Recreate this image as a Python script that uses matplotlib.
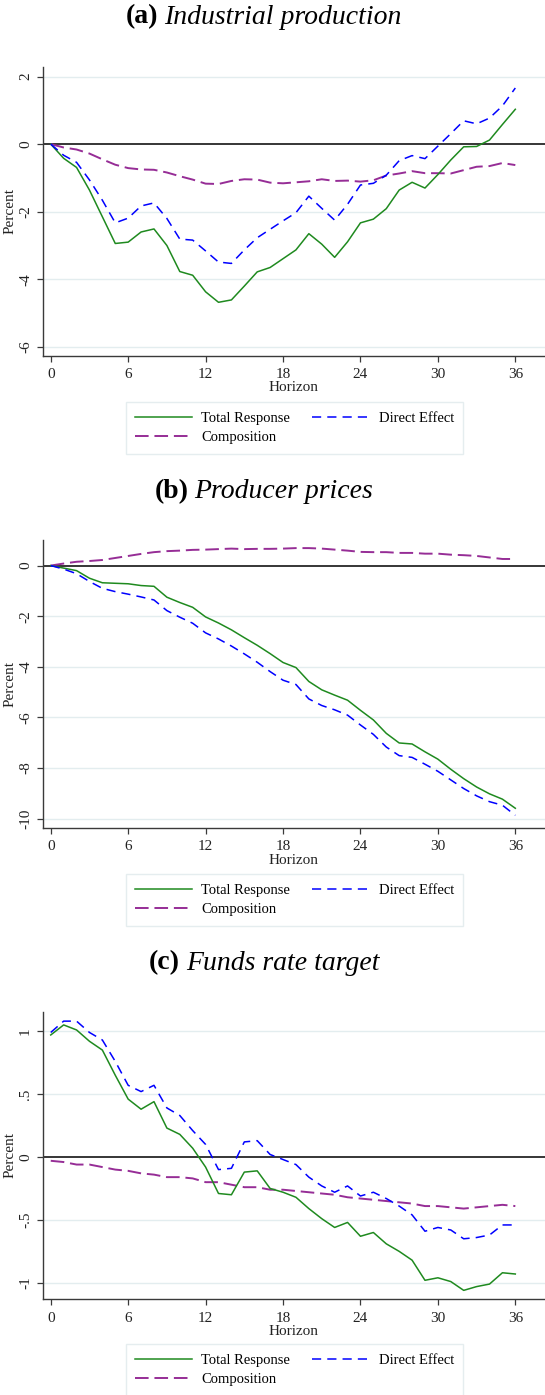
import matplotlib
matplotlib.use("Agg")
import matplotlib.pyplot as plt
import numpy as np

plt.rcParams['font.family'] = ['Liberation Serif', 'DejaVu Serif']

horizon = np.arange(37)

# (a) Industrial production
ip_total = [0, -0.42, -0.69, -1.36, -2.15, -2.94, -2.90, -2.60, -2.51, -3.00,
            -3.77, -3.88, -4.37, -4.68, -4.61, -4.20, -3.78, -3.65, -3.39, -3.13,
            -2.65, -2.96, -3.35, -2.89, -2.33, -2.22, -1.91, -1.36, -1.13, -1.30,
            -0.90, -0.47, -0.08, -0.07, 0.12, 0.58, 1.03]
ip_direct = [0, -0.33, -0.54, -1.06, -1.66, -2.33, -2.19, -1.83, -1.74, -2.20,
             -2.81, -2.84, -3.16, -3.49, -3.53, -3.13, -2.77, -2.52, -2.27, -2.03,
             -1.54, -1.90, -2.25, -1.78, -1.21, -1.16, -0.92, -0.49, -0.34, -0.43,
             -0.06, 0.31, 0.69, 0.60, 0.77, 1.13, 1.66]
ip_comp = [0, -0.10, -0.16, -0.28, -0.45, -0.61, -0.71, -0.75, -0.76, -0.84,
           -0.95, -1.05, -1.17, -1.18, -1.09, -1.04, -1.05, -1.14, -1.16, -1.13,
           -1.10, -1.04, -1.09, -1.08, -1.11, -1.07, -0.93, -0.87, -0.80, -0.86,
           -0.86, -0.87, -0.77, -0.67, -0.65, -0.56, -0.62]

# (b) Producer prices
pp_total = [0, -0.10, -0.20, -0.50, -0.68, -0.70, -0.72, -0.79, -0.82, -1.25,
            -1.46, -1.65, -2.03, -2.27, -2.54, -2.85, -3.15, -3.48, -3.83, -4.03,
            -4.58, -4.91, -5.12, -5.32, -5.72, -6.10, -6.63, -7.01, -7.05, -7.36,
            -7.65, -8.05, -8.42, -8.75, -9.02, -9.23, -9.59]
pp_direct = [0, -0.14, -0.32, -0.63, -0.90, -1.03, -1.13, -1.24, -1.36, -1.78,
             -2.04, -2.28, -2.66, -2.90, -3.18, -3.49, -3.82, -4.19, -4.53, -4.70,
             -5.27, -5.53, -5.70, -5.91, -6.30, -6.67, -7.17, -7.51, -7.58, -7.85,
             -8.13, -8.47, -8.81, -9.10, -9.33, -9.47, -9.87]
pp_comp = [0, 0.08, 0.15, 0.18, 0.22, 0.30, 0.38, 0.46, 0.53, 0.57,
           0.59, 0.62, 0.63, 0.65, 0.67, 0.65, 0.66, 0.66, 0.67, 0.69,
           0.69, 0.67, 0.63, 0.59, 0.54, 0.53, 0.53, 0.50, 0.50, 0.47,
           0.47, 0.43, 0.41, 0.38, 0.32, 0.26, 0.26]

# (c) Funds rate target
ff_total = [0.97, 1.05, 1.01, 0.92, 0.85, 0.65, 0.46, 0.38, 0.44, 0.23,
            0.18, 0.07, -0.08, -0.29, -0.30, -0.12, -0.11, -0.25, -0.28, -0.32,
            -0.41, -0.49, -0.56, -0.52, -0.63, -0.60, -0.69, -0.75, -0.82, -0.98,
            -0.96, -0.99, -1.06, -1.03, -1.01, -0.92, -0.93]
ff_direct = [0.99, 1.08, 1.08, 0.99, 0.93, 0.76, 0.57, 0.52, 0.57, 0.39,
             0.33, 0.21, 0.10, -0.10, -0.09, 0.12, 0.13, 0.02, -0.02, -0.06,
             -0.16, -0.23, -0.28, -0.23, -0.31, -0.28, -0.33, -0.39, -0.46, -0.59,
             -0.56, -0.58, -0.65, -0.64, -0.62, -0.54, -0.54]
ff_comp = [-0.03, -0.04, -0.06, -0.06, -0.08, -0.10, -0.11, -0.13, -0.14, -0.16,
           -0.16, -0.17, -0.20, -0.20, -0.22, -0.24, -0.24, -0.26, -0.26, -0.27,
           -0.28, -0.29, -0.30, -0.32, -0.33, -0.34, -0.35, -0.36, -0.37, -0.39,
           -0.39, -0.40, -0.41, -0.40, -0.39, -0.38, -0.39]

panels = [
    ("(a)", "Industrial production", ip_total, ip_direct, ip_comp,
     [2, 0, -2, -4, -6], ["2", "0", "-2", "-4", "-6"], (-6.26, 2.29)),
    ("(b)", "Producer prices", pp_total, pp_direct, pp_comp,
     [0, -2, -4, -6, -8, -10], ["0", "-2", "-4", "-6", "-8", "-10"], (-10.37, 1.01)),
    ("(c)", "Funds rate target", ff_total, ff_direct, ff_comp,
     [1, 0.5, 0, -0.5, -1], ["1", ".5", "0", "-.5", "-1"], (-1.131, 1.155)),
]

W, H = 545, 1395
fig = plt.figure(figsize=(W / 100, H / 100), dpi=100)

# pixel rows: (title y, axes top, axes bottom, legend top)
rows = [(17, 66.7, 355.7, 402), (492, 540, 828, 874), (963, 1011.7, 1299.3, 1344)]

green = "#1f8a1f"
blue = "#0000ff"
purple = "#962d96"
gridc = "#e3edef"

for (tag, name, tot, dire, comp, yt, ytl, ylim), (ty, top, bot, lt) in zip(panels, rows):
    ax = fig.add_axes([43 / W, 1 - bot / H, (W - 43) / W, (bot - top) / H])
    for y in yt:
        if y != 0:
            ax.axhline(y, color=gridc, lw=1.0, zorder=0)
    ax.axhline(0, color="black", lw=1.1, zorder=1)
    l1, = ax.plot(horizon, tot, color=green, lw=1.1, label="Total Response", zorder=3)
    l2, = ax.plot(horizon, dire, color=blue, lw=1.1, dashes=(6, 4),
                  label="Direct Effect", zorder=3)
    l3, = ax.plot(horizon, comp, color=purple, lw=1.4, dashes=(7, 3),
                  label="Composition", zorder=2)
    ax.set_xlim(-0.6, 38.3)
    ax.set_ylim(*ylim)
    ax.set_xticks(range(0, 37, 6))
    ax.set_yticks(yt)
    ax.set_yticklabels(ytl, rotation=90, va="center")
    for s in ["top", "right"]:
        ax.spines[s].set_visible(False)
    for s in ["left", "bottom"]:
        ax.spines[s].set_color("#3a3a3a")
        ax.spines[s].set_linewidth(1.0)
    ax.tick_params(axis="both", colors="#3a3a3a", labelcolor="#222222",
                   labelsize=11, length=4, width=0.9)
    ax.tick_params(axis="x", pad=5)
    ax.tick_params(axis="y", pad=4)
    ax.set_xlabel("Horizon", fontsize=11, color="#222222", labelpad=0)
    ax.set_ylabel("Percent", fontsize=11, color="#222222", labelpad=2)

    leg = fig.legend([l1, l3, l2], ["Total Response", "Composition", "Direct Effect"],
                     ncol=2, loc="upper center",
                     bbox_to_anchor=(294.5 / W, 1 - lt / H),
                     bbox_transform=fig.transFigure, fontsize=10.5,
                     handlelength=3.9, handletextpad=0.65, columnspacing=1.5,
                     labelspacing=0.45, borderpad=0.65, borderaxespad=0,
                     fancybox=False, frameon=True, edgecolor="#dfe9eb")
    leg.get_frame().set_linewidth(1.0)

    # bold tag plus italic title, centred together
    t1 = fig.text(0, 1 - ty / H, tag, fontsize=20, fontweight="bold",
                  ha="left", va="center")
    t2 = fig.text(0, 1 - ty / H, name, fontsize=20, fontstyle="italic",
                  ha="left", va="center")
    fig.canvas.draw()
    r = fig.canvas.get_renderer()
    w1 = t1.get_window_extent(r).width
    w2 = t2.get_window_extent(r).width
    gap = 6
    x0 = 264 - (w1 + gap + w2) / 2
    t1.set_x(x0 / W)
    t2.set_x((x0 + w1 + gap) / W)

fig.savefig("out.png", dpi=100)
